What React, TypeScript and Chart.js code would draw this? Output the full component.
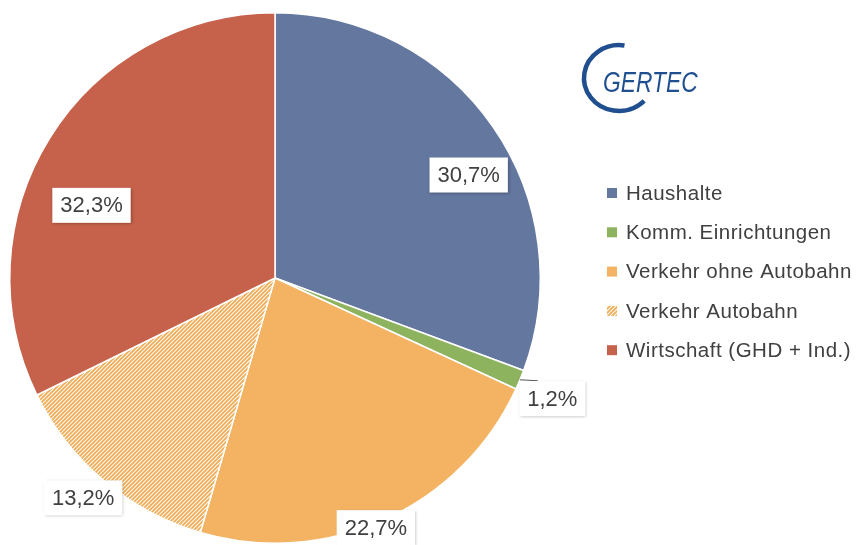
import React, { useEffect, useRef } from "react";
import { Chart, registerables } from "chart.js";
Chart.register(...registerables);

const categories = [
  "Haushalte",
  "Komm. Einrichtungen",
  "Verkehr ohne Autobahn",
  "Verkehr Autobahn",
  "Wirtschaft (GHD + Ind.)",
];
const shares = [30.7, 1.2, 22.7, 13.2, 32.3];
const valueLabels = ["30,7%", "1,2%", "22,7%", "13,2%", "32,3%"];
const sliceColors = ["#64779F", "#8DB35F", "#F3B362", "#F3B362", "#C6624B"];
const hatched = [false, false, false, true, false];

function makeHatch(color: string) {
  const c = document.createElement("canvas");
  c.width = 4;
  c.height = 4;
  const g = c.getContext("2d")!;
  g.fillStyle = "#ffffff";
  g.fillRect(0, 0, 4, 4);
  g.strokeStyle = color;
  g.lineWidth = 1.9;
  g.beginPath();
  g.moveTo(-1, 5);
  g.lineTo(5, -1);
  g.moveTo(-1, 1);
  g.lineTo(1, -1);
  g.moveTo(3, 5);
  g.lineTo(5, 3);
  g.stroke();
  return g.createPattern(c, "repeat")!;
}

export default function App() {
  const ref = useRef<HTMLCanvasElement>(null);
  useEffect(() => {
    const canvas = ref.current!;
    const pattern = makeHatch("#F0AC56");
    const fills = sliceColors.map((c, i) => (hatched[i] ? pattern : c));

    const placement = [
      { angle: -28, r: 0.827, leader: false },
      { angle: 23.5, r: 1.14, leader: true },
      { angle: 68, r: 1.015, leader: false },
      { angle: 131.1, r: 1.1, leader: false },
      { angle: 201.6, r: 0.744, leader: false },
    ];

    const overlay = {
      id: "overlay",
      afterDraw(chart: any) {
        const ctx = chart.ctx as CanvasRenderingContext2D;
        const meta = chart.getDatasetMeta(0);
        const arc0 = meta.data[0] as any;
        const cx = arc0.x, cy = arc0.y, R = arc0.outerRadius;

        // value labels
        ctx.save();
        ctx.font = "22px 'Liberation Sans', Arial, sans-serif";
        ctx.textAlign = "center";
        ctx.textBaseline = "middle";
        meta.data.forEach((arc: any, i: number) => {
          const p = placement[i];
          const a = (p.angle * Math.PI) / 180;
          const x = cx + Math.cos(a) * R * p.r;
          const y = cy + Math.sin(a) * R * p.r;
          const txt = valueLabels[i];
          const w = ctx.measureText(txt).width + 16;
          const h = 35;
          if (p.leader) {
            const mid = (arc.startAngle + arc.endAngle) / 2;
            const ex = cx + Math.cos(mid) * R;
            const ey = cy + Math.sin(mid) * R;
            ctx.strokeStyle = "#595959";
            ctx.lineWidth = 1;
            ctx.beginPath();
            ctx.moveTo(ex, ey);
            ctx.lineTo(ex + 18, ey + 1);
            ctx.stroke();
          }
          ctx.save();
          ctx.shadowColor = "rgba(0,0,0,0.28)";
          ctx.shadowBlur = 3;
          ctx.shadowOffsetX = 1;
          ctx.shadowOffsetY = 1;
          ctx.fillStyle = "#ffffff";
          ctx.fillRect(x - w / 2, y - h / 2, w, h);
          ctx.restore();
          ctx.fillStyle = "#404040";
          ctx.fillText(txt, x, y + 1);
        });
        ctx.restore();

        // legend
        ctx.save();
        ctx.font = "20.5px 'Liberation Sans', Arial, sans-serif";
        (ctx as any).letterSpacing = "0.5px";
        ctx.textBaseline = "middle";
        ctx.textAlign = "left";
        const lx = 607, ly = 193, step = 39.3;
        categories.forEach((name, i) => {
          const y = ly + i * step;
          ctx.fillStyle = fills[i] as any;
          ctx.fillRect(lx, y - 5, 10, 10);
          ctx.fillStyle = "#404040";
          ctx.fillText(name, lx + 19, y + 1);
        });
        ctx.restore();

        // logo
        ctx.save();
        ctx.strokeStyle = "#1F4F8F";
        ctx.lineWidth = 4.5;
        ctx.lineCap = "butt";
        ctx.beginPath();
        ctx.ellipse(619, 78, 35, 33, 0, (-81 * Math.PI) / 180, (44 * Math.PI) / 180, true);
        ctx.stroke();
        ctx.fillStyle = "#1F4F8F";
        ctx.font = "italic 30px 'Liberation Sans', Arial, sans-serif";
        ctx.textBaseline = "alphabetic";
        ctx.textAlign = "left";
        ctx.translate(603, 92);
        ctx.scale(0.76, 1);
        ctx.fillText("GERTEC", 0, 0);
        ctx.restore();
      },
    };

    const chart = new Chart(canvas, {
      type: "pie",
      data: {
        labels: categories,
        datasets: [
          {
            data: shares,
            backgroundColor: fills as any,
            borderColor: "#ffffff",
            borderWidth: 1.5,
          },
        ],
      },
      options: {
        animation: false,
        responsive: true,
        maintainAspectRatio: false,
        layout: { padding: { left: 9, top: 12, right: 317, bottom: 1 } },
        plugins: {
          legend: { display: false },
          tooltip: { enabled: false },
        },
      },
      plugins: [overlay],
    });
    return () => chart.destroy();
  }, []);

  return (
    <div style={{ position: "fixed", left: 0, top: 0, width: 858, height: 545, background: "#fff" }}>
      <canvas ref={ref} />
    </div>
  );
}
